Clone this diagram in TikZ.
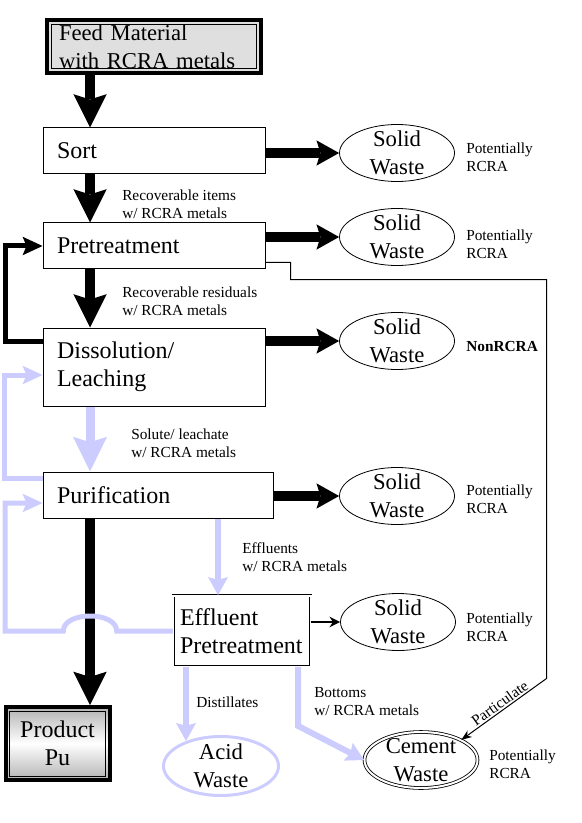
\documentclass[tikz,border=0pt]{standalone}
\usepackage{fontspec}
\setmainfont{Liberation Serif}
\usepackage{tikz}
\usetikzlibrary{arrows.meta,calc,positioning,shapes.geometric}
\definecolor{flowblue}{RGB}{204,204,255}
\newcommand{\boxfont}{\fontsize{18pt}{21pt}\selectfont}
\newcommand{\wastefont}{\fontsize{17pt}{21pt}\selectfont}
\newcommand{\notefont}{\fontsize{11.5pt}{13.5pt}\selectfont}
\tikzset{%
	process/.style   = {draw, rectangle, line width=0.75pt, inner xsep=10.5pt, inner ysep=0pt, align=left, font=\boxfont},
	feedbox/.style   = {draw, rectangle, line width=3pt, inner xsep=9pt, inner ysep=0pt, align=left, font=\wastefont},
	waste/.style     = {draw, ellipse, line width=0.6pt, minimum width=86.25pt, minimum height=42.75pt, inner sep=0pt}, % Waste stream
	wastetext/.style = {align=center, inner sep=0pt, font=\wastefont},
	note/.style      = {anchor=north west, align=left, inner sep=0pt, font=\notefont},
	bigarrow/.style  = {line width=8pt, -{Stealth[length=25pt, width=25pt, inset=4pt, line width=0pt]}},
	sidearrow/.style = {line width=7.5pt, -{Stealth[length=17pt, width=19pt, inset=3pt, line width=0pt]}},
	looparrow/.style = {line width=3.75pt, -{Stealth[length=15pt, width=14pt, inset=3pt, line width=0pt]}},
	bluearrow/.style = {flowblue, line width=6.75pt, -{Stealth[length=26pt, width=25.5pt, inset=4pt, line width=0pt]}},
	blueflow/.style  = {flowblue, line width=4.5pt, -{Stealth[length=13.5pt, width=15pt, inset=2pt, line width=0pt]}},
	blueloop/.style  = {flowblue, line width=3.75pt, -{Stealth[length=15pt, width=14pt, inset=3pt, line width=0pt]}},
	thinarrow/.style = {line width=1.5pt, -{Stealth[length=8pt, width=8pt, line width=0pt]}},
	wire/.style      = {line width=0.75pt, -{Stealth[length=8pt, width=6pt, line width=0pt]}},
}

\begin{document}
\begin{tikzpicture}[x=0.75pt,y=-0.75pt]
	\useasboundingbox (0,0) rectangle (581,823);
	\coordinate (rail) at (5,0);
	\coordinate (maincol) at (90,0);
	\coordinate (effcol) at (218,0);
	\coordinate (distcol) at (186,0);
	\coordinate (botcol) at (298,0);

	\node [feedbox, fill=gray!25, minimum width=160.5pt, minimum height=39.75pt, text width=142.5pt] (feed) at (154,46.5) {Feed Material\\with RCRA metals};
	\draw [line width=0.6pt] ([shift={(5pt,-5pt)}]feed.north west) rectangle ([shift={(-5pt,5pt)}]feed.south east);
	\node [process, text width=145.5pt, minimum height=34.5pt] (sort) at (154,151) {Sort};
	\node [process, text width=145.5pt, minimum height=34.5pt] (pret) at (154,246) {Pretreatment};
	\node [process, text width=145.5pt, minimum height=58.5pt] (diss) at (154,367) {Dissolution/\\Leaching};
	\node [process, text width=151.5pt, minimum height=34.5pt] (pur) at (158,495) {Purification};
	\node [process, line width=0.6pt, double, double distance=1.5pt, inner xsep=5pt, text width=93pt, minimum height=53.25pt] (eff) at (242,631) {Effluent\\Pretreatment};
	\node [feedbox, align=center, font=\boxfont, top color=gray!60, bottom color=gray!60, middle color=white, minimum width=77.25pt, minimum height=54.75pt, text width=60pt] (prod) at (57.5,743.5) {Product\\Pu};
	\draw [line width=0.6pt] ([shift={(4.5pt,-4.5pt)}]prod.north west) rectangle ([shift={(-4.5pt,4.5pt)}]prod.south east);

	\node [waste] (sw1) at (397,153) {};
	\node [waste] (sw2) at (397,237) {};
	\node [waste] (sw3) at (397,341) {};
	\node [waste] (sw4) at (397,496) {};
	\node [waste] (sw5) at (398,622) {};
	\node [waste, draw=flowblue, line width=2.25pt, minimum width=86.25pt, minimum height=44.25pt] (acid) at (221,766) {};
	\node [waste, double, double distance=1.5pt, minimum width=84.75pt, minimum height=42pt] (cem) at (421,760) {};
	\foreach \w in {sw1,sw2,sw3,sw4,sw5}
		\node [wastetext] (\w t) at (\w) {Solid\\Waste};
	\node [wastetext] (acidt) at (acid) {Acid\\Waste};
	\node [wastetext] (cemt) at (cem) {Cement\\Waste};

	% main line
	\draw[bigarrow] (feed.south -| maincol) -- (sort.north -| maincol);
	\draw[bigarrow] (sort.south -| maincol) -- (pret.north -| maincol);
	\draw[bigarrow] (pret.south -| maincol) -- (diss.north -| maincol);
	\draw[bluearrow] (diss.south -| maincol) -- (pur.north -| maincol);
	\draw[bigarrow] (pur.south -| maincol) -- (prod.north -| maincol);

	% waste streams
	\draw[sidearrow] (sort.east |- sw1) -- (sw1);
	\draw[sidearrow] (pret.east |- sw2) -- (sw2);
	\draw[sidearrow] (diss.east |- sw3) -- (sw3);
	\draw[sidearrow] (pur.east |- sw4) -- (sw4);
	\draw[thinarrow] (eff.east |- sw5) -- (sw5);
	\draw[blueflow] (pur.south -| effcol) -- (eff.north -| effcol);
	\draw[blueflow] (eff.south -| distcol) -- ([yshift=-4.5pt]acid.north -| distcol);
	\draw[blueflow] (eff.south -| botcol) -- ++(0,59) -- (cem.west);
	\draw[wire] ([yshift=5.25pt]pret.south east) -- ++(25,0) -- ++(0,17) -| ++(256,399)
		-- node[sloped, above, inner sep=1pt, font=\notefont] (partlbl) {Particulate} (cem.north east);

	% recycle loops
	\draw[looparrow] (diss.west |- sw3) -- (rail |- sw3) |- (pret.west);
	\draw[blueloop] ([yshift=-5.25pt]pur.north west) -- ++(-38,0) |- ([yshift=-6pt]diss.west);
	\draw[blueloop] (eff.west) -- ([xshift=20pt]maincol |- eff.west)
		.. controls +(0,-20) and +(0,-20) .. ([xshift=-20pt]maincol |- eff.west)
		-- (rail |- eff.west) |- ([yshift=-6pt]pur.west);

	\node[note] (lblsort) at (122,190) {Recoverable items\\w/ RCRA metals};
	\node[note] (lblpret) at (122,287) {Recoverable residuals\\w/ RCRA metals};
	\node[note] (lbldiss) at (131,429) {Solute/ leachate\\w/ RCRA metals};
	\node[note] (lblpur) at (242,542) {Effluents\\w/ RCRA metals};
	\node[note] (lbldist) at (196,697) {Distillates};
	\node[note] (lblbot) at (314,687) {Bottoms\\w/ RCRA metals};
	\node[note] (rcra1) at (466,143) {Potentially\\RCRA};
	\node[note] (rcra2) at (466,230) {Potentially\\RCRA};
	\node[note, font=\notefont\bfseries] (rcra3) at (466,341) {NonRCRA};
	\node[note] (rcra4) at (466,485) {Potentially\\RCRA};
	\node[note] (rcra5) at (466,613) {Potentially\\RCRA};
	\node[note] (rcra6) at (489,750) {Potentially\\RCRA};
\end{tikzpicture}
\end{document}
